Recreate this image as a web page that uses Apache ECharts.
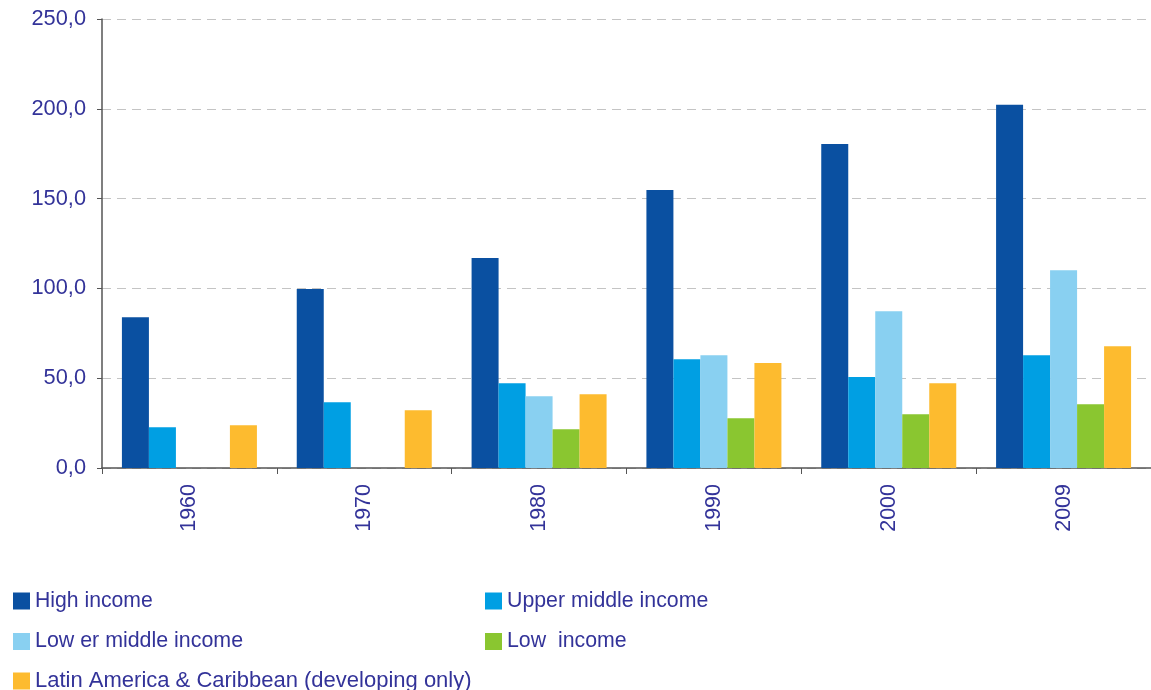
<!DOCTYPE html>
<html>
<head>
<meta charset="utf-8">
<script src="https://cdn.jsdelivr.net/npm/echarts@6/dist/echarts.min.js"></script>
<style>
html,body{margin:0;padding:0;background:#fff;}
#c{width:1151px;height:690px;}
</style>
</head>
<body>
<div id="c"></div>
<script>
var categories = ['1960', '1970', '1980', '1990', '2000', '2009'];
var highIncome = [84.0, 99.6, 116.9, 154.8, 180.4, 202.2];
var upperMiddle = [22.7, 36.6, 47.2, 60.6, 50.6, 62.8];
var lowerMiddle = [null, null, 40.0, 62.8, 87.3, 110.1];
var lowIncome = [null, null, 21.6, 27.7, 29.9, 35.5];
var latinAmerica = [23.8, 32.2, 41.1, 58.4, 47.2, 67.8];
var seriesNames = ['High income', 'Upper middle income', 'Low er middle income', 'Low  income', 'Latin America & Caribbean (developing only)'];
var colors = ['#0a50a1', '#009fe3', '#89d0f1', '#8ac630', '#fdbb2f'];
var yTicks = { min: 0, max: 250, interval: 50 };

var txtColor = '#333399';
var font = 'Liberation Sans, Arial, sans-serif';
var dataSets = [highIncome, upperMiddle, lowerMiddle, lowIncome, latinAmerica];

// legend placement (left, top) and font size for each series
var legendPos = [[13, 589.5], [485, 589.5], [13, 630], [485, 630], [13, 669.5]];
var legendFont = [21.2, 21.3, 21.4, 21.3, 22];

var chart = echarts.init(document.getElementById('c'), null, { renderer: 'canvas' });
var option = {
  animation: false,
  color: colors,
  grid: { left: 102, right: -4, top: 19, bottom: 222, containLabel: false },
  legend: seriesNames.map(function (n, i) {
    return {
      orient: 'horizontal', left: legendPos[i][0], top: legendPos[i][1],
      itemWidth: 17, itemHeight: 17, itemGap: 0, padding: 0,
      icon: 'rect', selectedMode: false,
      textStyle: { color: txtColor, fontSize: legendFont[i], fontFamily: font, lineHeight: 17, padding: [0, 0, 6, 0] },
      data: [n]
    };
  }),
  xAxis: {
    type: 'category',
    data: categories,
    axisLine: { lineStyle: { color: '#555', width: 1.5 } },
    axisTick: { show: true, length: 6, lineStyle: { color: '#555' } },
    axisLabel: { rotate: 90, margin: 16, color: txtColor, fontSize: 21.5, fontFamily: font }
  },
  yAxis: {
    type: 'value',
    min: yTicks.min, max: yTicks.max, interval: yTicks.interval,
    axisLine: { show: true, lineStyle: { color: '#555', width: 1.5 } },
    axisTick: { show: true, length: 5, lineStyle: { color: '#555' } },
    axisLabel: {
      margin: 16, color: txtColor, fontSize: 21.8, fontFamily: font,
      formatter: function (v) { return v.toFixed(1).replace('.', ','); }
    },
    splitLine: { show: true, lineStyle: { color: '#c4c4c4', type: [9, 6], width: 1 } }
  },
  series: seriesNames.map(function (n, i) {
    return { name: n, type: 'bar', data: dataSets[i], barWidth: 27, barGap: '0%', itemStyle: { color: colors[i] } };
  })
};
chart.setOption(option);
</script>
</body>
</html>
